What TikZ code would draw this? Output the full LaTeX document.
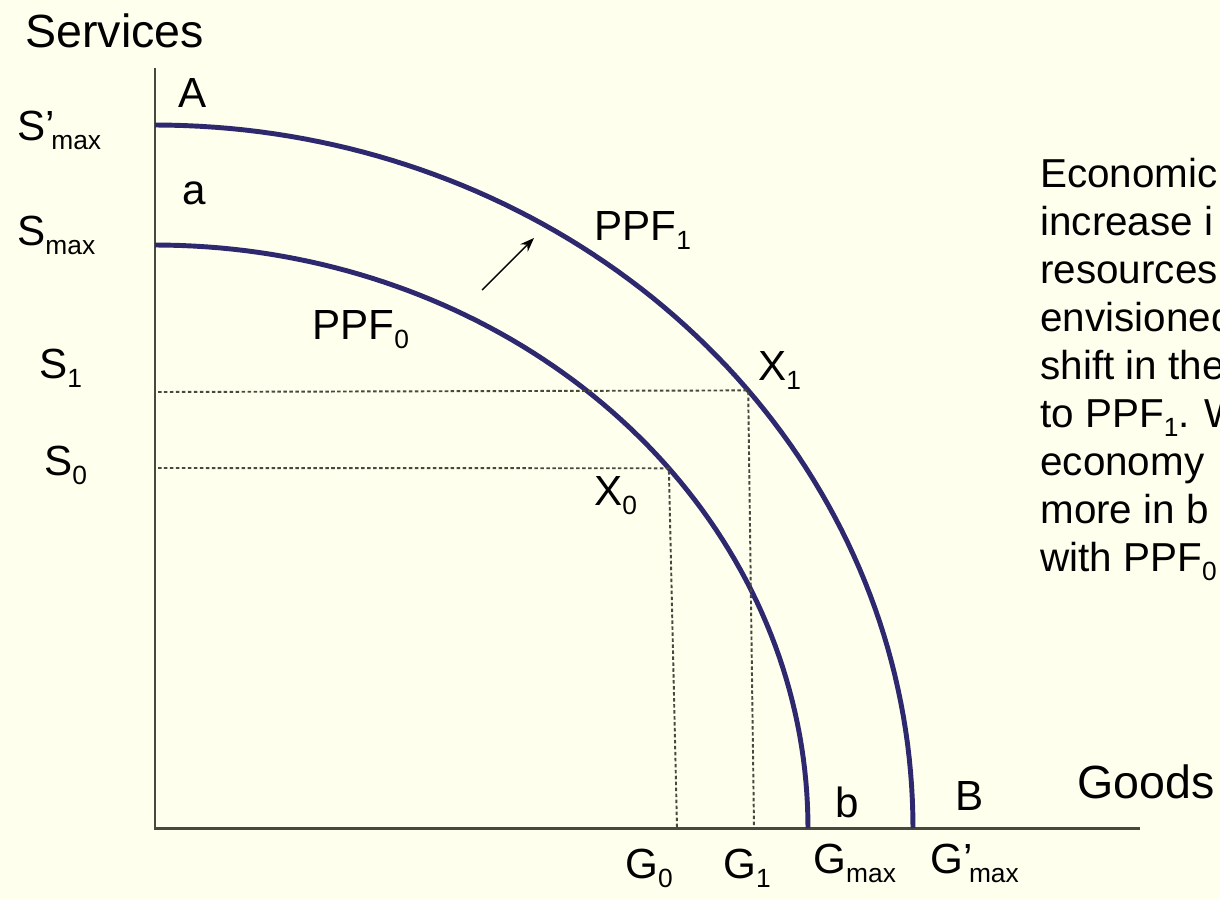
\documentclass[tikz,border=0pt]{standalone}
\usepackage{fontspec}
\setmainfont{Liberation Sans}
\usetikzlibrary{arrows.meta}

\definecolor{bgcream}{RGB}{255,255,238}
\definecolor{ppfblue}{RGB}{46,40,110}
\definecolor{axisgray}{RGB}{72,72,62}

\newcommand{\subtxt}[1]{\raisebox{-5.5pt}{\fontsize{15}{15}\selectfont #1}}

\begin{document}
\begin{tikzpicture}[x=0.02cm, y=-0.02cm,
  lbl/.style={anchor=base west, inner sep=0pt, font=\fontsize{24}{28}\selectfont},
  axtitle/.style={lbl, font=\fontsize{26.5}{30}\selectfont},
  note/.style={lbl, font=\fontsize{23}{28}\selectfont},
  axis/.style={axisgray, line width=1.7pt},
  ppf/.style={ppfblue, line width=2.8pt},
  guide/.style={axisgray, line width=1.1pt, dash pattern=on 2pt off 1.4pt}]
  \fill[bgcream] (0,0) rectangle (1220,899);
  \useasboundingbox (0,0) rectangle (1220,899);
  \clip (0,0) rectangle (1220,899);

  % axes
  \coordinate (o) at (155,828);
  \coordinate (ytop) at (155,68);
  \coordinate (xend) at (1140,828);
  \draw[axis] (ytop) -- (o) -- (xend);
  \node[axtitle] (services) at (25,47) {Services};
  \node[axtitle] (goods) at (1077,798) {Goods};

  % frontiers
  \draw[ppf] plot[domain=90:0, samples=80] ({155+758*cos(\x)},{828-703*sin(\x)});
  \draw[ppf] plot[domain=90:0, samples=80] ({155+653*cos(\x)},{828-583*sin(\x)});
  \coordinate (x1) at ({155+758*cos(38.5)},{828-703*sin(38.5)});
  \coordinate (x0) at ({155+653*cos(38.1)},{828-583*sin(38.1)});

  % guide lines
  \coordinate (s1) at (158,392);
  \coordinate (s0) at (158,468);
  \coordinate (g1) at (754,828);
  \coordinate (g0) at (677,828);
  \draw[guide] (s1) -- (x1) -- (g1);
  \draw[guide] (s0) -- (x0) -- (g0);

  % outward shift
  \coordinate (tail) at (482,290);
  \coordinate (tip) at (534,238);
  \draw[-{Stealth[length=8pt,width=6pt]}, line width=0.8pt] (tail) -- (tip);

  % labels
  \node[lbl] (A) at (178,107) {A};
  \node[lbl] (a) at (182,204) {a};
  \node[lbl] (b) at (835,817) {b};
  \node[lbl] (B) at (955,810) {B};
  \node[lbl] (ppf1) at (594,240) {PPF\subtxt{1}};
  \node[lbl] (ppf0) at (312,339) {PPF\subtxt{0}};
  \node[lbl] (X1) at (758,380) {X\subtxt{1}};
  \node[lbl] (X0) at (594,505) {X\subtxt{0}};
  \node[lbl] (smax1) at (17,140) {S’\kern-2pt\subtxt{max}};
  \node[lbl] (smax) at (17,245) {S\subtxt{max}};
  \node[lbl] (S1) at (39,378) {S\subtxt{1}};
  \node[lbl] (S0) at (44,475) {S\subtxt{0}};
  \node[lbl] (G0) at (625,878) {G\subtxt{0}};
  \node[lbl] (G1) at (723,878) {G\subtxt{1}};
  \node[lbl] (gmax) at (813,873) {G\subtxt{max}};
  \node[lbl] (gmax1) at (930,873) {G’\kern-2pt\subtxt{max}};

  % side note
  \foreach \txt [count=\k from 0] in {Economic, increase i, resources, envisioned,
      shift in the, {to PPF\subtxt{1}. W}, economy, more in b, {with PPF\subtxt{0}}}
    \node[note] (note\k) at (1040,{187+48*\k}) {\txt};
\end{tikzpicture}
\end{document}
